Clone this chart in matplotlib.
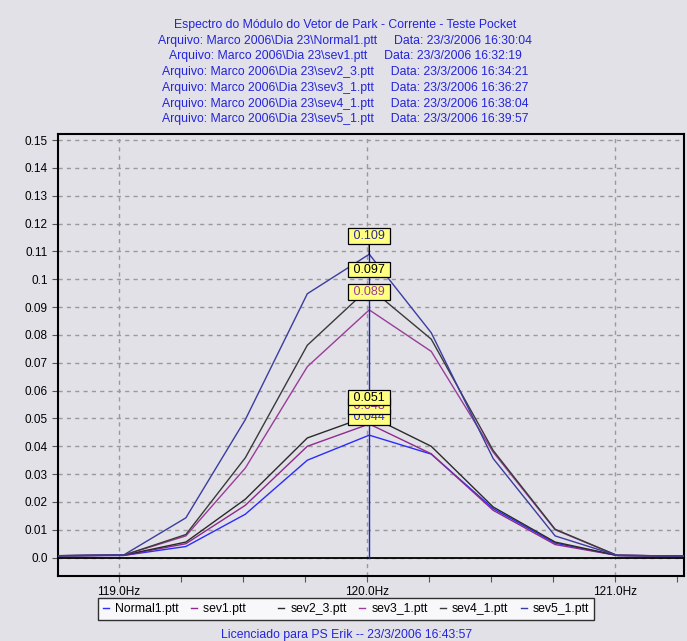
import matplotlib
matplotlib.use("Agg")
import matplotlib.pyplot as plt
from matplotlib.ticker import MultipleLocator, FixedLocator

plt.rcParams['font.family'] = ['Liberation Sans', 'DejaVu Sans']

# ---- data ----
freq = [118.52, 118.77, 119.02, 119.27, 119.51, 119.76, 120.01, 120.26, 120.51, 120.76, 121.01, 121.26, 121.51]
series_names = ["Normal1.ptt", "sev1.ptt", "sev2_3.ptt", "sev3_1.ptt", "sev4_1.ptt", "sev5_1.ptt"]
normal1 = [0.0006, 0.0007, 0.0008, 0.0040, 0.0156, 0.0350, 0.044, 0.0372, 0.0176, 0.0052, 0.0008, 0.0006, 0.0006]
sev1    = [0.0006, 0.0007, 0.0008, 0.0050, 0.0188, 0.0400, 0.048, 0.0373, 0.0170, 0.0047, 0.0008, 0.0006, 0.0006]
sev2_3  = [0.0006, 0.0007, 0.0009, 0.0056, 0.0210, 0.0430, 0.051, 0.0400, 0.0182, 0.0056, 0.0008, 0.0006, 0.0006]
sev3_1  = [0.0006, 0.0007, 0.0009, 0.0078, 0.0322, 0.0686, 0.089, 0.0741, 0.0379, 0.0100, 0.0008, 0.0006, 0.0006]
sev4_1  = [0.0006, 0.0007, 0.0009, 0.0083, 0.0359, 0.0763, 0.097, 0.0785, 0.0385, 0.0102, 0.0008, 0.0006, 0.0006]
sev5_1  = [0.0006, 0.0007, 0.0010, 0.0143, 0.0496, 0.0948, 0.109, 0.0808, 0.0356, 0.0078, 0.0008, 0.0006, 0.0006]
peak_freq = 120.01
peak_labels = ["0.044", "0.048", "0.051", "0.089", "0.097", "0.109"]
yticks = [0.0, 0.01, 0.02, 0.03, 0.04, 0.05, 0.06, 0.07, 0.08, 0.09, 0.1, 0.11, 0.12, 0.13, 0.14, 0.15]
ytick_labels = ["0.0", "0.01", "0.02", "0.03", "0.04", "0.05", "0.06", "0.07", "0.08", "0.09",
                "0.1", "0.11", "0.12", "0.13", "0.14", "0.15"]
xticks = [119.0, 120.0, 121.0]
xtick_labels = ["119.0Hz", "120.0Hz", "121.0Hz"]
title_lines = [
    "Espectro do Módulo do Vetor de Park - Corrente - Teste Pocket",
    "Arquivo: Marco 2006\\Dia 23\\Normal1.ptt     Data: 23/3/2006 16:30:04",
    "Arquivo: Marco 2006\\Dia 23\\sev1.ptt     Data: 23/3/2006 16:32:19",
    "Arquivo: Marco 2006\\Dia 23\\sev2_3.ptt     Data: 23/3/2006 16:34:21",
    "Arquivo: Marco 2006\\Dia 23\\sev3_1.ptt     Data: 23/3/2006 16:36:27",
    "Arquivo: Marco 2006\\Dia 23\\sev4_1.ptt     Data: 23/3/2006 16:38:04",
    "Arquivo: Marco 2006\\Dia 23\\sev5_1.ptt     Data: 23/3/2006 16:39:57",
]
footer = "Licenciado para PS Erik -- 23/3/2006 16:43:57"

# ---- styles ----
bg = '#e1e1e7'
colors = ['#2b2bff', '#8e2a8e', '#2a2a2a', '#9a3c9a', '#3a3a3a', '#3c3ca0']
label_colors = ['#2020ff', '#8e2a8e', '#000000', '#9a3c9a', '#000000', '#2a2a90']
text_blue = '#2424dc'

W, H = 687, 641
fig = plt.figure(figsize=(W / 100, H / 100), dpi=100, facecolor=bg)
ax = fig.add_axes([58 / W, 1 - 576 / H, (684 - 58) / W, (576 - 134) / H], facecolor=bg)

ax.set_xlim(118.754, 121.28)
ax.set_ylim(-0.0066, 0.1522)

all_series = [normal1, sev1, sev2_3, sev3_1, sev4_1, sev5_1]
for vals, c, name in zip(all_series, colors, series_names):
    ax.plot(freq, vals, color=c, lw=1.0, label=name, zorder=3)

# zero line
ax.axhline(0.0, color='black', lw=1.3, zorder=2)

# grid
ax.set_yticks(yticks)
ax.set_yticklabels(ytick_labels)
ax.xaxis.set_major_locator(FixedLocator(xticks))
ax.set_xticklabels(xtick_labels)
ax.xaxis.set_minor_locator(MultipleLocator(0.25))
ax.grid(True, which='major', color='#9a9a9a', linestyle=(0, (3, 3)), lw=1.0, zorder=1)
ax.tick_params(axis='both', which='both', direction='out', length=4, width=0.8,
               colors='#555555', labelcolor='black', labelsize=8.5)
ax.tick_params(axis='x', which='major', pad=3)
for s in ax.spines.values():
    s.set_color('black')
    s.set_linewidth(1.5)

# cursor line
ax.plot([peak_freq, peak_freq], [0.0, max(sev5_1)], color='#2020c0', lw=1.0, zorder=4)
ax.annotate("", xy=(peak_freq, max(sev5_1)), xytext=(0, 13), textcoords='offset points',
            arrowprops=dict(arrowstyle='-', color='black', lw=1.0, shrinkA=0, shrinkB=0), zorder=4)

# peak labels
for vals, lab, lc in zip(all_series, peak_labels, label_colors):
    ax.annotate(" " + lab + " ", xy=(peak_freq, vals[freq.index(peak_freq)]), xytext=(0, 13),
                textcoords='offset points', ha='center', va='center', fontsize=9, color=lc,
                bbox=dict(boxstyle='square,pad=0.15', fc='#ffff80', ec='black', lw=0.9),
                zorder=6, annotation_clip=False)

# titles
y0 = 25
for i, line in enumerate(title_lines):
    fig.text(345 / W, 1 - (y0 + i * 15.7) / H, line, ha='center', va='center',
             fontsize=8.8, color=text_blue)
fig.text(347 / W, 1 - 635 / H, footer, ha='center', va='center', fontsize=8.8, color=text_blue)

# legend
handles, labels = ax.get_legend_handles_labels()
labels = [l if l != "sev1.ptt" else "sev1.ptt      " for l in labels]
leg = fig.legend(handles, labels, loc='center', bbox_to_anchor=(346 / W, 1 - 609 / H),
                 ncol=6, fontsize=8.8, handlelength=0.5, handletextpad=0.5, columnspacing=1.0,
                 frameon=True, fancybox=False, borderpad=0.4, borderaxespad=0)
leg.get_frame().set_edgecolor('black')
leg.get_frame().set_facecolor('white')
leg.get_frame().set_linewidth(1.0)

fig.savefig('out.png', dpi=100, facecolor=bg)
